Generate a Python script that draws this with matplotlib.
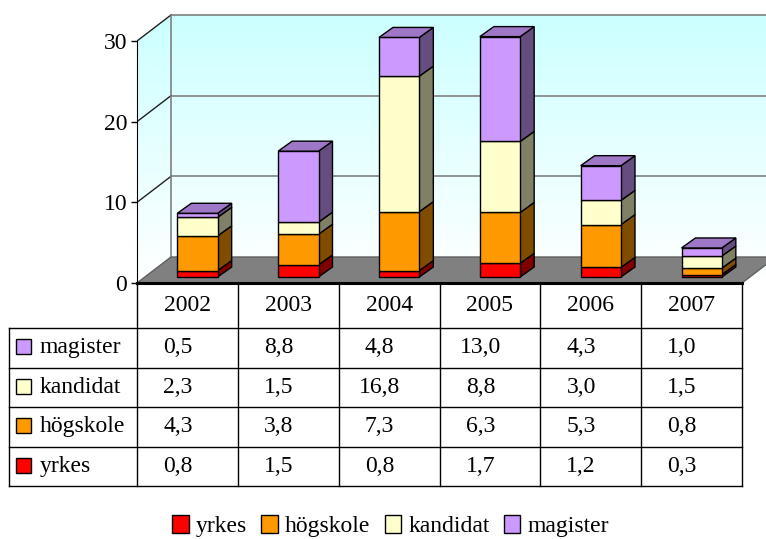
import matplotlib
matplotlib.use('Agg')
import matplotlib.pyplot as plt
import numpy as np
from matplotlib.patches import Polygon, Rectangle, Patch
from matplotlib.colors import LinearSegmentedColormap, to_rgb

plt.rcParams['font.family'] = ['Liberation Serif', 'DejaVu Serif']

years = ['2002', '2003', '2004', '2005', '2006', '2007']
series = ['yrkes', 'högskole', 'kandidat', 'magister']
yrkes = [0.8, 1.5, 0.8, 1.7, 1.2, 0.3]
hogskole = [4.3, 3.8, 7.3, 6.3, 5.3, 0.8]
kandidat = [2.3, 1.5, 16.8, 8.8, 3.0, 1.5]
magister = [0.5, 8.8, 4.8, 13.0, 4.3, 1.0]
colors = ['#FF0000', '#FF9900', '#FFFFCC', '#CC99FF']
yticks = [0, 10, 20, 30]

values = np.array([yrkes, hogskole, kandidat, magister])

W, H = 766, 539
fig = plt.figure(figsize=(W / 100, H / 100), dpi=100)

# ---- chart area (pixel layout) ----
x_axis, y_zero, y_30 = 137, 283, 41
px_cat = (742 - x_axis) / 6.0
px_val = (y_zero - y_30) / 30.0
ax = fig.add_axes([x_axis / W, (H - y_zero) / H, (W - x_axis) / W, y_zero / H])
ax.set_xlim(-0.5, -0.5 + (W - x_axis) / px_cat)
ax.set_ylim(0, y_zero / px_val)

DX, DY = 34 / px_cat, 26 / px_val          # wall depth
bw, ox, oy = 0.40, 0.10, 6 / px_val        # bar width / offset
bdx, bdy = 14 / px_cat, 10 / px_val        # bar depth

# walls with gradient
xl = -0.5
wall = Polygon([(xl, 0), (xl, 30), (xl + DX, 30 + DY), (7, 30 + DY), (7, 0)],
               closed=True, fc='none', ec='none')
ax.add_patch(wall)
cmap = LinearSegmentedColormap.from_list('wall', ['#FFFFFF', '#CCFFFF'])
grad = np.linspace(0, 1, 256).reshape(-1, 1)
im = ax.imshow(grad, cmap=cmap, origin='lower', aspect='auto',
               extent=(xl, 7, 0, 30 + DY), zorder=0)
im.set_clip_path(wall)

# grid lines
for v in yticks[1:]:
    ax.plot([xl + DX, 7], [v + DY, v + DY], color='#808080', lw=1.2, zorder=1)
    ax.plot([xl, xl + DX], [v, v + DY], color='#202020', lw=1, zorder=1)
ax.plot([xl + DX, xl + DX], [DY, 30 + DY], color='#808080', lw=1.2, zorder=1)

# floor
floor = Polygon([(xl, 0), (5.5, 0), (5.5 + DX, DY), (xl + DX, DY)], closed=True,
                fc='#808080', ec='#606060', lw=1, zorder=2)
ax.add_patch(floor)
ax.plot([xl, 5.5], [0, 0], color='black', lw=2.2, zorder=3, clip_on=False)

# bars
def shade(c, f):
    return tuple(np.array(to_rgb(c)) * f)

for i in range(len(years)):
    x0 = i + ox - bw / 2
    x1 = x0 + bw
    bottom = oy
    for s in range(len(series)):
        h = values[s, i]
        top = bottom + h
        col = colors[s]
        side = Polygon([(x1, bottom), (x1 + bdx, bottom + bdy), (x1 + bdx, top + bdy), (x1, top)],
                       closed=True, fc=shade(col, 0.5), ec='black', lw=1, zorder=4)
        front = Rectangle((x0, bottom), bw, h, fc=col, ec='black', lw=1, zorder=4)
        ax.add_patch(side)
        ax.add_patch(front)
        bottom = top
    topface = Polygon([(x0, bottom), (x1, bottom), (x1 + bdx, bottom + bdy), (x0 + bdx, bottom + bdy)],
                      closed=True, fc=shade(colors[-1], 0.78), ec='black', lw=1, zorder=4)
    ax.add_patch(topface)

for sp in ['top', 'right', 'bottom']:
    ax.spines[sp].set_visible(False)
ax.spines['left'].set_position(('data', xl))
ax.spines['left'].set_bounds(0, 30)
ax.spines['left'].set_zorder(5)
ax.set_xticks([])
ax.set_yticks(yticks)
ax.tick_params(axis='y', length=4, width=1, pad=3, labelsize=17)

# ---- data table ----
tab_top, tab_bot, tab_left = 283, 486, 9
row_h = (486 - 328) / 4.0
hdr = 45 / row_h
lab_w = (x_axis - tab_left) / px_cat
tax = fig.add_axes([tab_left / W, (H - tab_bot) / H, (742 - tab_left) / W, (tab_bot - tab_top) / H])
tax.set_xlim(-0.5 - lab_w, 5.5)
tax.set_ylim(0, 4 + hdr)
tax.axis('off')

for r in range(5):
    tax.plot([-0.5 - lab_w, 5.5], [r, r], color='black', lw=1, clip_on=False)
tax.plot([-0.5 - lab_w] * 2, [0, 4], color='black', lw=1, clip_on=False)
for j in range(7):
    tax.plot([-0.5 + j] * 2, [0, 4 + hdr], color='black', lw=1, clip_on=False)

for i, yr in enumerate(years):
    tax.text(i, 4 + hdr / 2, yr, ha='center', va='center', fontsize=17)

sq_w = 15 / px_cat
sq_h = 15 / row_h
for k, s in enumerate(reversed(range(len(series)))):
    yc = 3 - k + 0.5
    tax.add_patch(Rectangle((-0.5 - lab_w + 7 / px_cat, yc - sq_h / 2 + 0.02), sq_w, sq_h,
                            fc=colors[s], ec='black', lw=1, clip_on=False))
    tax.text(-0.5 - lab_w + 31 / px_cat, yc, series[s], ha='left', va='center', fontsize=17)
    for i in range(len(years)):
        txt = f"{values[s, i]:.1f}".replace('.', ',')
        tax.text(i - 0.095, yc, txt, ha='center', va='center', fontsize=17)

# ---- legend ----
handles = [Patch(fc=c, ec='black', lw=1) for c in colors]
fig.legend(handles, series, loc='center', bbox_to_anchor=(0.51, 0.024), ncol=4,
           frameon=False, fontsize=17, handlelength=0.7, handleheight=0.8,
           handletextpad=0.3, columnspacing=0.6, borderpad=0)

fig.savefig('out.png', dpi=100)
